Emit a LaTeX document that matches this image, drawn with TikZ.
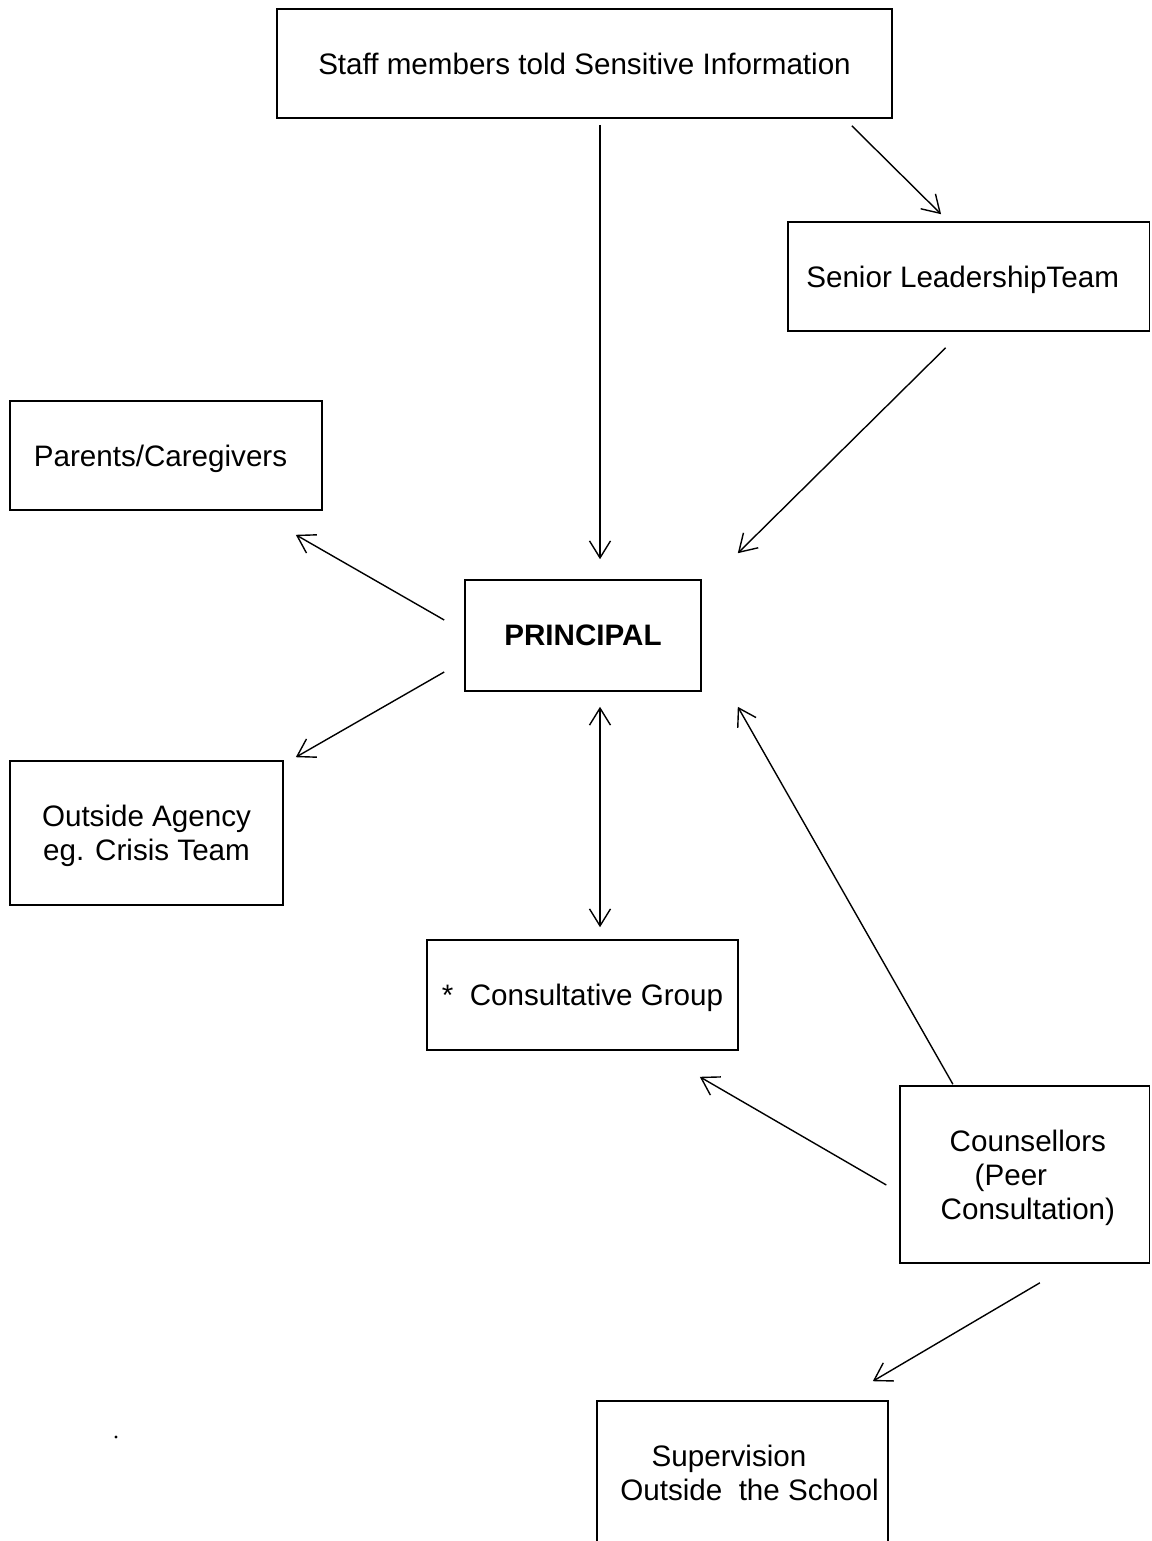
\documentclass[tikz,border=0pt]{standalone}
\usepackage{fontspec}
\setmainfont{Liberation Sans}
\usetikzlibrary{arrows.meta,calc}
\tikzset{
  box/.style={draw,line width=0.8pt,inner sep=0pt,align=center,text depth=0pt,font=\fontsize{14.8}{17}\selectfont},
  arr/.style={line width=0.7pt,-{Straight Barb[length=8.5pt,width=10.5pt,line width=0.7pt]}},
  darr/.style={line width=0.7pt,{Straight Barb[length=8.5pt,width=10.5pt,line width=0.7pt]}-{Straight Barb[length=8.5pt,width=10.5pt,line width=0.7pt]}}
}
\begin{document}
\begin{tikzpicture}[x=0.5pt,y=-0.5pt]
\useasboundingbox (0,0) rectangle (1151,1541);
\node[box,minimum width=307.5pt,minimum height=54.5pt] (staff) at (584.5,63.5) {Staff members told Sensitive Information};
\node[box,minimum width=180.75pt,minimum height=54.5pt] (senior) at (968.625,276.5) {\hspace*{-6pt}Senior LeadershipTeam};
\node[box,minimum width=156pt,minimum height=54.5pt] (parents) at (166,455.5) {\hspace*{-5.5pt}Parents/Caregivers};
\node[box,minimum width=118pt,minimum height=55.5pt] (principal) at (583,635.5) {\textbf{PRINCIPAL}};
\node[box,minimum width=136.5pt,minimum height=72pt] (outside) at (146.5,833) {Outside Agency\\eg. Crisis Team};
\node[box,minimum width=155.5pt,minimum height=55pt] (consult) at (582.5,995) {*~~Consultative Group};
\node[box,minimum width=124.75pt,minimum height=88.5pt] (couns) at (1024.875,1174.5) {\hspace*{3pt}Counsellors\\\hspace*{3pt}(Peer\rule{17pt}{0pt}\\\hspace*{3pt}Consultation)};
\node[box,minimum width=145.5pt,minimum height=72pt] (superv) at (742.5,1473) {\hspace*{7pt}Supervision\rule{20.5pt}{0pt}\\\hspace*{7pt}Outside~~the School};
\fill (116,1437) circle[radius=0.8pt];
\draw[arr] ($(staff.south)+(15.5,6)$) -- ($(principal.north)+(17,-20)$);
\draw[arr] ($(staff.south east)+(-41,7)$) -- ($(senior.north west)+(154,-7)$);
\draw[arr] ($(senior.south)+(-23,16)$) -- ($(principal.north east)+(36,-26)$);
\draw[arr] ($(principal.west)+(-20,-15.5)$) -- ($(parents.south east)+(-27,24)$);
\draw[arr] ($(principal.west)+(-20,36.5)$) -- ($(outside.north east)+(12,-3)$);
\draw[darr] ($(principal.south)+(17,15)$) -- ($(consult.north)+(17.5,-12)$);
\draw[arr] ($(couns.north)+(-72,-1)$) -- ($(principal.south east)+(36,15)$);
\draw[arr] ($(couns.west)+(-13,10.5)$) -- ($(consult.south east)+(-39,26)$);
\draw[arr] ($(couns.south)+(15,19)$) -- ($(superv.north east)+(-16,-19)$);
\end{tikzpicture}
\end{document}
